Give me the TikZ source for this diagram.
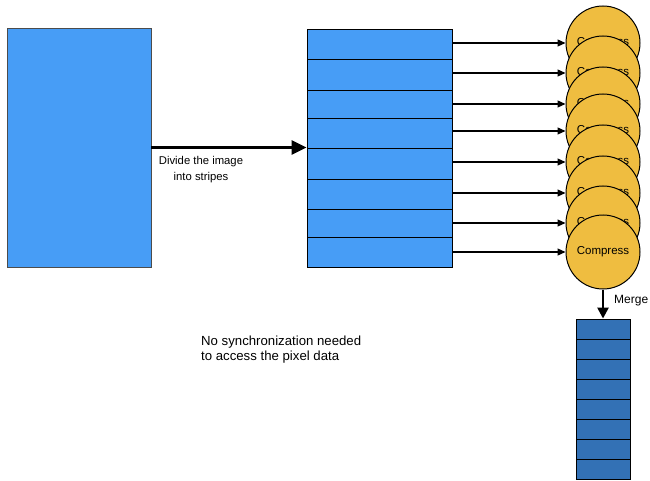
\documentclass[tikz,border=0pt]{standalone}
\usepackage{fontspec}
\setmainfont{Liberation Sans}
\usetikzlibrary{arrows.meta}
\definecolor{imgblue}{HTML}{479DF6}
\definecolor{mrgblue}{HTML}{3371B5}
\definecolor{cmpyellow}{HTML}{EFBD40}
\tikzset{
  imagebox/.style={draw=black!70, line width=0.6pt, fill=imgblue, inner sep=0pt},
  stripebox/.style={draw=black, line width=0.9pt, fill=imgblue, inner sep=0pt},
  mergebox/.style={draw=black, line width=0.9pt, fill=mrgblue, inner sep=0pt},
  compressor/.style={circle, draw=black, line width=1pt, fill=cmpyellow,
    minimum size=74pt, inner sep=0pt, font=\fontsize{11.5}{13}\selectfont},
  feed/.style={-{Triangle[length=8pt,width=7pt]}, line width=1.2pt},
  caption/.style={font=\fontsize{11.3}{15.5}\selectfont, inner sep=0pt}
}
\begin{document}
\begin{tikzpicture}[x=1pt,y=-1pt]
\useasboundingbox (0,0) rectangle (650,481);

% source image
\node[imagebox, minimum width=144pt, minimum height=239pt] (src) at (79,147.5) {};

% stripes of the image
\foreach \i/\top/\bot in {1/29/59,2/59/90,3/90/118,4/118/148,5/148/179,6/179/209,7/209/237,8/237/267}{
  \node[stripebox, minimum width=145pt, minimum height={(\bot-\top)*1pt}]
    (s\i) at (379.5,{(\top+\bot)/2}) {};
}

% one compressor per stripe, each drawn over the previous one
\foreach \i/\y in {1/43,2/73,3/104,4/131,5/162,6/193,7/223,8/252}{
  \node[compressor] (c\i) at (603,\y) {Compress};
}

% stripe to compressor
\foreach \i in {1,...,8}{
  \draw[feed] (s\i.east |- c\i) -- (c\i.west);
}

% split step
\coordinate (splitend) at (s1.west |- src.east);
\draw[line width=3pt, -{Triangle[length=15pt,width=14pt]}] (src.east) -- (splitend);
\node[caption, align=center] (splitlbl) at (201,169.5) {Divide the image\\into stripes};

% merged result
\foreach \i in {1,...,8}{
  \node[mergebox, minimum width=54pt, minimum height=20.1pt]
    (m\i) at (603,{319+(\i-0.5)*20.1}) {};
}
\draw[line width=2.5pt, -{Triangle[length=11pt,width=11pt]}] (c8.south) -- (m1.north);
\node[caption, anchor=west, font=\fontsize{12}{14}\selectfont] (mergelbl) at (614,300.5) {Merge};

\node[caption, align=left, anchor=north west, font=\fontsize{13.2}{15}\selectfont]
  (note) at (201,336) {No synchronization needed\\to access the pixel data};
\end{tikzpicture}
\end{document}
